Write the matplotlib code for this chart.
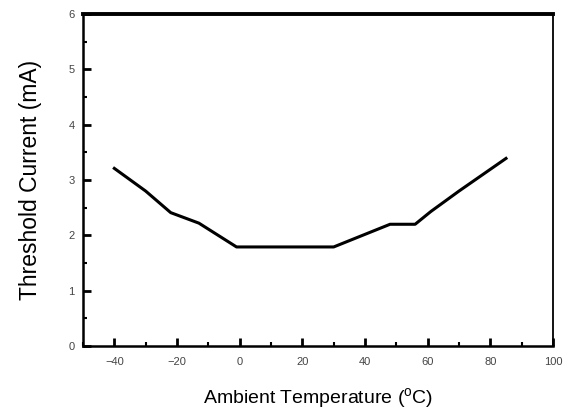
import matplotlib
matplotlib.use("Agg")
import matplotlib.pyplot as plt
from matplotlib.ticker import MultipleLocator

temperature = [-40, -30, -22, -13, -1, 30, 48, 56, 61, 70, 85]
threshold_current = [3.21, 2.80, 2.41, 2.22, 1.79, 1.79, 2.20, 2.20, 2.43, 2.80, 3.39]

x_ticks = [-40, -20, 0, 20, 40, 60, 80, 100]
y_ticks = [0, 1, 2, 3, 4, 5, 6]

plt.rcParams['font.family'] = ['Liberation Sans', 'DejaVu Sans']

fig = plt.figure(figsize=(5.71, 4.12), dpi=100)
ax = fig.add_axes([83/571, 1-346/412, (553-83)/571, (346-14)/412])

ax.plot(temperature, threshold_current, color='black', lw=2.2)

ax.set_xlim(-50, 100)
ax.set_ylim(0, 6)
ax.set_xticks(x_ticks)
ax.set_yticks(y_ticks)
ax.xaxis.set_minor_locator(MultipleLocator(10))
ax.yaxis.set_minor_locator(MultipleLocator(0.5))
ax.tick_params(which='major', direction='in', length=6, width=2, labelsize=8,
               labelcolor='#444444', pad=6)
ax.tick_params(which='minor', direction='in', length=3, width=1.5)
ax.tick_params(axis='x', which='major', pad=8)

ax.spines['top'].set_linewidth(2.8)
ax.spines['left'].set_linewidth(1.8)
ax.spines['bottom'].set_linewidth(1.8)
ax.spines['right'].set_linewidth(1.3)

ax.set_xlabel('Ambient Temperature ($^{\\mathregular{o}}$C)', fontsize=14, labelpad=14)
ax.set_ylabel('Threshold Current (mA)', fontsize=16.5, labelpad=19)

fig.savefig('out.png', dpi=100)
